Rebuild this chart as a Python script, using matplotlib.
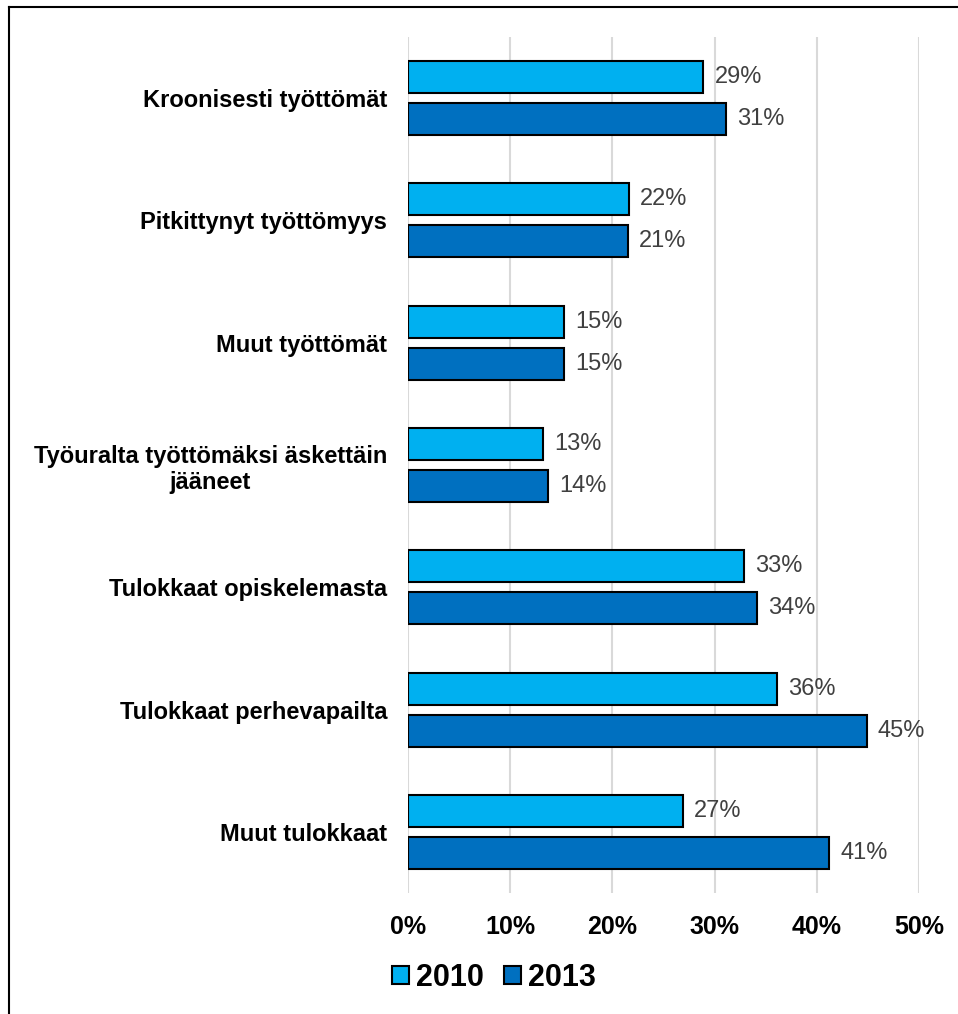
import matplotlib.pyplot as plt
import numpy as np
from matplotlib.lines import Line2D
from matplotlib.ticker import PercentFormatter

categories = ['Kroonisesti työttömät', 'Pitkittynyt työttömyys', 'Muut työttömät',
              'Työuralta työttömäksi äskettäin\njääneet', 'Tulokkaat opiskelemasta',
              'Tulokkaat perhevapailta', 'Muut tulokkaat']
vals_2010 = [28.9, 21.6, 15.3, 13.2, 32.9, 36.1, 26.9]
vals_2013 = [31.1, 21.5, 15.3, 13.7, 34.1, 44.9, 41.2]
labels_2010 = ['29%', '22%', '15%', '13%', '33%', '36%', '27%']
labels_2013 = ['31%', '21%', '15%', '14%', '34%', '45%', '41%']
xticks = [0, 10, 20, 30, 40, 50]

plt.rcParams['font.family'] = ['Liberation Sans', 'DejaVu Sans']

fig = plt.figure(figsize=(9.58, 10.14), dpi=100)
ax = fig.add_axes([408/958, 121/1014, 511/958, 856/1014])

y = np.arange(len(categories))
h = 0.262
off = 0.172
b1 = ax.barh(y - off, vals_2010, height=h, color='#00B0F0', edgecolor='black',
             linewidth=1.5, label='2010', zorder=3)
b2 = ax.barh(y + off, vals_2013, height=h, color='#0070C0', edgecolor='black',
             linewidth=1.5, label='2013', zorder=3)
ax.bar_label(b1, labels=labels_2010, padding=8, fontsize=17, color='#404040')
ax.bar_label(b2, labels=labels_2013, padding=8, fontsize=17, color='#404040')

ax.set_xlim(0, 50)
ax.set_ylim(len(categories) - 0.5, -0.5)
ax.set_xticks(xticks)
ax.xaxis.set_major_formatter(PercentFormatter(decimals=0))
ax.set_yticks(y)
ax.set_yticklabels(categories, fontweight='bold', fontsize=17, multialignment='center')
ax.tick_params(axis='y', length=0, pad=15)
ax.tick_params(axis='x', length=0, pad=16, labelsize=18)
for lab in ax.get_xticklabels():
    lab.set_fontweight('bold')

ax.grid(axis='x', color='#D9D9D9', linewidth=1.5, zorder=0)
for s in ax.spines.values():
    s.set_visible(False)

leg = fig.legend(handles=[b1, b2], loc='center', bbox_to_anchor=(494/958, 1 - 978/1014),
                 ncol=2, frameon=False, prop={'weight': 'bold', 'size': 22},
                 handlelength=0.55, handleheight=0.55, handletextpad=0.25, columnspacing=0.65)

# border lines (top and left only)
fig.add_artist(Line2D([9/958, 9/958], [0, 1 - 7/1014], color='black', linewidth=1.5,
                      transform=fig.transFigure))
fig.add_artist(Line2D([9/958, 1], [1 - 7/1014, 1 - 7/1014], color='black', linewidth=1.5,
                      transform=fig.transFigure))

fig.savefig('out.png', dpi=100)
